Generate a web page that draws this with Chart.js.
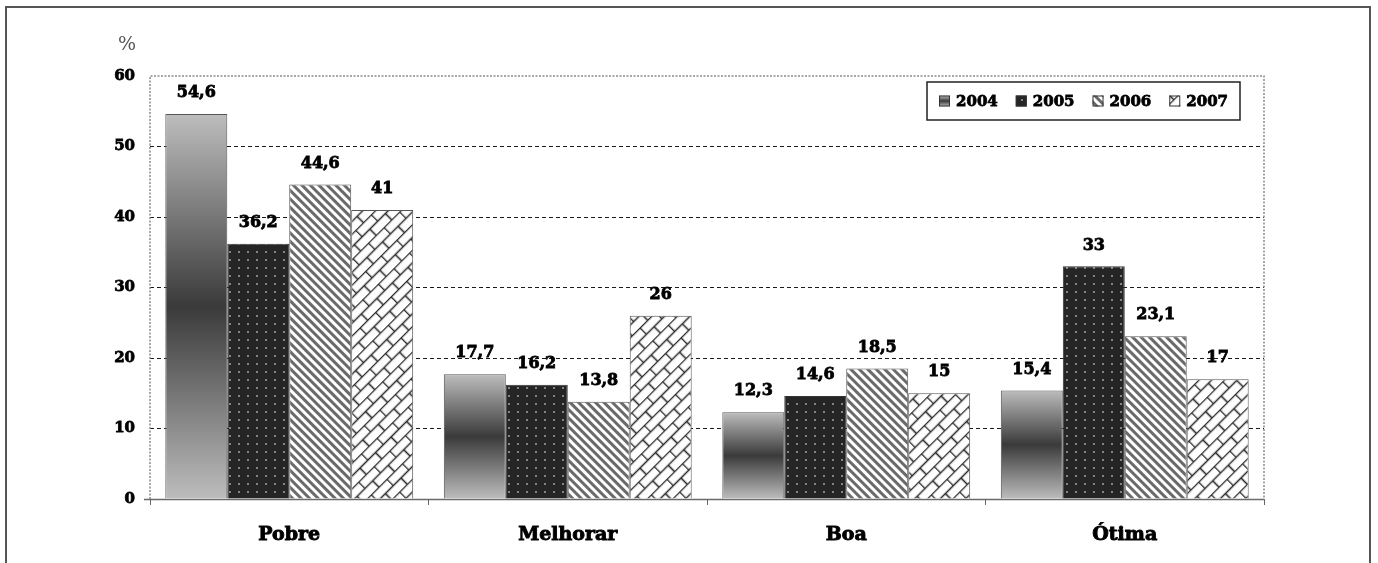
<!DOCTYPE html>
<html>
<head>
<meta charset="utf-8">
<script src="https://cdn.jsdelivr.net/npm/chart.js@4/dist/chart.umd.min.js"></script>
<style>
  html, body { margin: 0; padding: 0; background: #fff; }
  #wrap { position: relative; width: 1378px; height: 563px; overflow: hidden; }
  #frame { position: absolute; left: 5px; top: 6px; width: 1362px; height: 620px;
           border: 2px solid #555; box-sizing: content-box; pointer-events: none; }
  canvas { position: absolute; left: 0; top: 0; }
</style>
</head>
<body>
<div id="wrap">
  <canvas id="c" width="1378" height="563"></canvas>
  <div id="frame"></div>
</div>
<script>
// Categories and yearly series (percent)
const categories = ['Pobre', 'Melhorar', 'Boa', 'Ótima'];
const years = ['2004', '2005', '2006', '2007'];
const v2004 = [54.6, 17.7, 12.3, 15.4];
const v2005 = [36.2, 16.2, 14.6, 33];
const v2006 = [44.6, 13.8, 18.5, 23.1];
const v2007 = [41, 26, 15, 17];
const yTicks = [0, 10, 20, 30, 40, 50, 60];
const yUnit = '%';

const SERIF = '"DejaVu Serif", "Liberation Serif", serif';

// ---- fill patterns ----
function makeTile(w, h, draw) {
  const t = document.createElement('canvas');
  t.width = w; t.height = h;
  draw(t.getContext('2d'), w, h);
  return t;
}
const mainCtx = document.getElementById('c').getContext('2d');

// dark fill with light dots
const dotTile = makeTile(9, 8, (g, w, h) => {
  g.fillStyle = '#252525'; g.fillRect(0, 0, w, h);
  g.fillStyle = '#858585'; g.fillRect(4, 3, 2, 2);
});
const dotPattern = mainCtx.createPattern(dotTile, 'repeat');

// wide downward diagonal stripes: horizontal bands turned by 45 degrees
const stripeTile = makeTile(8, 6, (g, w, h) => {
  g.fillStyle = '#fff'; g.fillRect(0, 0, w, h);
  g.fillStyle = '#6a6a6a'; g.fillRect(0, 0, w, 3);
});
const stripePattern = mainCtx.createPattern(stripeTile, 'repeat');
if (stripePattern.setTransform) stripePattern.setTransform(new DOMMatrix().rotate(45));

// diagonal brick
const brickTile = makeTile(22, 18, (g, w, h) => {
  g.fillStyle = '#fff'; g.fillRect(0, 0, w, h);
  g.strokeStyle = '#2a2a2a'; g.lineWidth = 1.6;
  g.beginPath();
  g.moveTo(0, 0.5); g.lineTo(w, 0.5);
  g.moveTo(0, 9.5); g.lineTo(w, 9.5);
  g.moveTo(0.5, 0); g.lineTo(0.5, 9.5);
  g.moveTo(11.5, 9.5); g.lineTo(11.5, 18);
  g.stroke();
});
const brickPattern = mainCtx.createPattern(brickTile, 'repeat');
if (brickPattern.setTransform) brickPattern.setTransform(new DOMMatrix().rotate(-45));

// 2004: light-dark-light vertical gradient per bar
function gradientFill(context) {
  const chart = context.chart;
  if (context.type !== 'data' || !chart.chartArea || !context.parsed) return '#777';
  const ys = chart.scales.y;
  const top = ys.getPixelForValue(context.parsed.y);
  const bot = ys.getPixelForValue(0);
  const g = chart.ctx.createLinearGradient(0, top, 0, bot);
  g.addColorStop(0, '#bdbdbd');
  g.addColorStop(0.5, '#3a3a3a');
  g.addColorStop(1, '#bdbdbd');
  return g;
}

// heavy text: fill plus a thin outline
function heavyText(ctx, txt, x, y) {
  ctx.strokeStyle = ctx.fillStyle;
  ctx.lineWidth = 0.8;
  ctx.strokeText(txt, x, y);
  ctx.fillText(txt, x, y);
}

// ---- plugins ----
const frameAndExtras = {
  id: 'frameAndExtras',
  beforeDatasetsDraw(chart) {
    const { ctx, chartArea: a } = chart;
    ctx.save();
    ctx.strokeStyle = '#8a8a8a';
    ctx.lineWidth = 1.5;
    ctx.setLineDash([2, 1.5]);
    ctx.beginPath();
    ctx.moveTo(a.left, a.bottom); ctx.lineTo(a.left, a.top);
    ctx.lineTo(a.right, a.top); ctx.lineTo(a.right, a.bottom);
    ctx.stroke();
    ctx.setLineDash([]);
    ctx.strokeStyle = '#6a6a6a';
    ctx.beginPath();
    ctx.moveTo(a.left - 6, a.bottom + 0.5); ctx.lineTo(a.right, a.bottom + 0.5);
    ctx.stroke();
    // unit label above the value axis
    ctx.fillStyle = '#555';
    ctx.font = '19px ' + SERIF;
    ctx.textAlign = 'right';
    ctx.textBaseline = 'middle';
    ctx.fillText(yUnit, a.left - 14, a.top - 31);
    ctx.restore();
  },
  afterDatasetsDraw(chart) {
    const { ctx } = chart;
    ctx.save();
    ctx.fillStyle = '#000';
    ctx.font = 'bold 16px ' + SERIF;
    ctx.textAlign = 'center';
    ctx.textBaseline = 'middle';
    chart.data.datasets.forEach((ds, i) => {
      chart.getDatasetMeta(i).data.forEach((el, j) => {
        const txt = String(ds.data[j]).replace('.', ',');
        heavyText(ctx, txt, el.x, el.y - 21);
      });
    });
    ctx.restore();
  },
  afterDraw(chart) {
    // legend box in the upper right of the plot
    const { ctx, chartArea: a } = chart;
    ctx.save();
    ctx.font = 'bold 15px ' + SERIF;
    const sw = 11, gap = 6, itemGap = 18, padX = 12;
    const widths = chart.data.datasets.map(d => ctx.measureText(d.label).width);
    const total = padX * 2 + widths.reduce((s, w) => s + sw + gap + w, 0) + itemGap * (widths.length - 1);
    const h = 38;
    const right = a.right - 24, top = a.top + 6;
    const left = right - total;
    ctx.fillStyle = '#fff';
    ctx.fillRect(left, top, total, h);
    ctx.strokeStyle = '#222';
    ctx.lineWidth = 1.5;
    ctx.strokeRect(left, top, total, h);
    let x = left + padX;
    const cy = top + h / 2;
    chart.data.datasets.forEach((d, i) => {
      let fill = d.backgroundColor;
      if (typeof fill === 'function') {
        const g = ctx.createLinearGradient(0, cy - sw / 2, 0, cy + sw / 2);
        g.addColorStop(0, '#bdbdbd'); g.addColorStop(0.5, '#3a3a3a'); g.addColorStop(1, '#bdbdbd');
        fill = g;
      }
      ctx.fillStyle = fill;
      ctx.fillRect(x, cy - sw / 2, sw, sw);
      ctx.strokeStyle = '#333'; ctx.lineWidth = 1;
      ctx.strokeRect(x + 0.5, cy - sw / 2 + 0.5, sw - 1, sw - 1);
      x += sw + gap;
      ctx.fillStyle = '#000';
      ctx.textAlign = 'left';
      ctx.textBaseline = 'middle';
      heavyText(ctx, d.label, x, cy + 1);
      x += widths[i] + itemGap;
    });
    ctx.restore();
  }
};

new Chart(document.getElementById('c'), {
  type: 'bar',
  data: {
    labels: categories,
    datasets: [
      { label: years[0], data: v2004, backgroundColor: gradientFill, borderColor: '#555', borderWidth: 1 },
      { label: years[1], data: v2005, backgroundColor: dotPattern, borderColor: '#333', borderWidth: 1 },
      { label: years[2], data: v2006, backgroundColor: stripePattern, borderColor: '#555', borderWidth: 1 },
      { label: years[3], data: v2007, backgroundColor: brickPattern, borderColor: '#555', borderWidth: 1 }
    ]
  },
  options: {
    responsive: false,
    animation: false,
    events: [],
    layout: { padding: { left: 100, right: 114, top: 76, bottom: 0 } },
    datasets: { bar: { categoryPercentage: 0.89, barPercentage: 1.0 } },
    plugins: { legend: { display: false }, tooltip: { enabled: false } },
    scales: {
      x: {
        grid: { display: true, drawOnChartArea: false, offset: true, color: '#666', tickLength: 6, lineWidth: 1 },
        border: { display: false },
        ticks: { color: '#000', textStrokeColor: '#000', textStrokeWidth: 0.9,
                 font: { family: SERIF, size: 19, weight: 'bold' }, padding: 19 },
        afterFit: s => { s.height = 64; }
      },
      y: {
        min: 0, max: 60,
        afterBuildTicks: s => { s.ticks = yTicks.map(v => ({ value: v })); },
        grid: {
          drawTicks: false,
          color: c => (c.tick && c.tick.value > 0 && c.tick.value < 60) ? '#1a1a1a' : 'rgba(0,0,0,0)',
          lineWidth: 1
        },
        border: { display: false, dash: [4, 3] },
        ticks: { color: '#000', textStrokeColor: '#000', textStrokeWidth: 0.8,
                 font: { family: SERIF, size: 15, weight: 'bold' }, padding: 15 },
        afterFit: s => { s.width = 50; }
      }
    }
  },
  plugins: [frameAndExtras]
});
</script>
</body>
</html>
